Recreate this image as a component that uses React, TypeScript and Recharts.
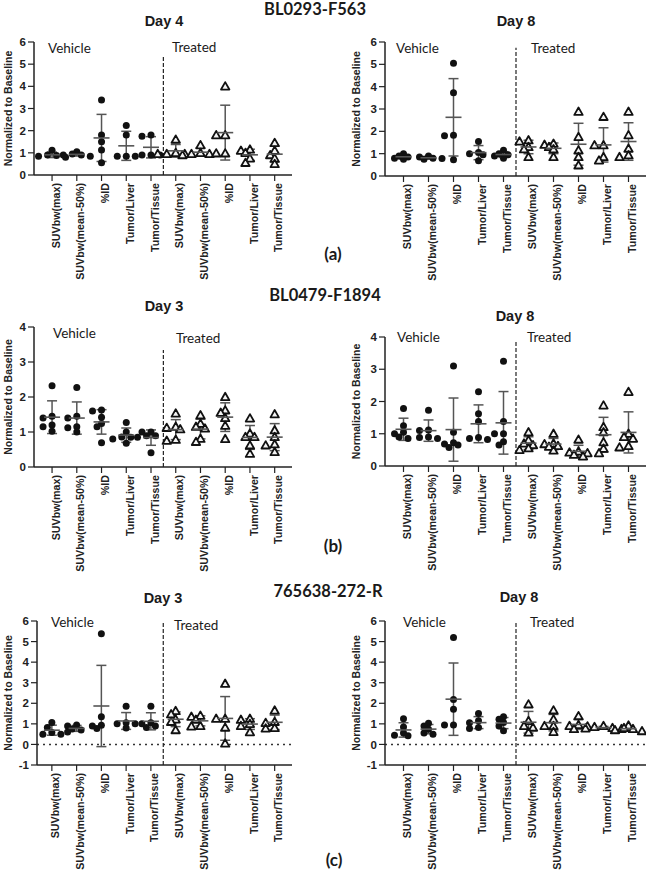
import { ScatterChart, Scatter, XAxis, YAxis, ErrorBar, ReferenceLine } from "recharts"

const W = 648
const H = 873
const SANS = '"Liberation Sans", Arial, sans-serif'
const CAL = 'Lato, "Open Sans", sans-serif'

const categories = ["SUVbw(max)", "SUVbw(mean-50%)", "%ID", "Tumor/Liver", "Tumor/Tissue"]
const tickLabels = [...categories, ...categories]

// BL0293-F563
const a4Vehicle = [
  [1.12, 0.9, 0.88, 0.85, 0.8],
  [1.05, 0.95, 0.9, 0.9, 0.85],
  [3.38, 1.8, 1.5, 1.13, 0.55],
  [2.23, 1.8, 0.85, 0.85, 0.85],
  [1.8, 1.75, 0.9, 0.9, 0.9],
]
const a4Treated = [
  [1.6, 1.0, 0.95, 0.95, 0.95],
  [1.35, 1.0, 0.95, 0.95, 0.9],
  [4.0, 1.8, 1.8, 0.98, 0.98],
  [1.15, 1.1, 1.0, 0.75, 0.55],
  [1.45, 1.1, 0.9, 0.75, 0.5],
]
const a8Vehicle = [
  [1.0, 0.9, 0.85, 0.8, 0.75],
  [0.9, 0.85, 0.8, 0.78, 0.75],
  [5.05, 3.73, 1.83, 1.8, 0.73],
  [1.55, 1.05, 1.0, 0.95, 0.68],
  [1.15, 1.0, 0.95, 0.9, 0.8],
]
const a8Treated = [
  [1.6, 1.55, 1.3, 1.2, 0.85],
  [1.45, 1.4, 1.3, 1.2, 0.85],
  [2.88, 1.75, 1.15, 0.85, 0.48],
  [2.65, 1.38, 1.38, 0.85, 0.7],
  [2.88, 1.83, 1.23, 0.93, 0.85],
]

// BL0479-F1894
const b3Vehicle = [
  [2.32, 1.45, 1.4, 1.2, 1.15, 1.02],
  [2.27, 1.45, 1.4, 1.15, 1.12, 1.0],
  [1.63, 1.6, 1.42, 1.24, 1.15, 0.69],
  [1.27, 1.0, 0.86, 0.85, 0.8, 0.68],
  [1.0, 1.0, 0.89, 0.89, 0.85, 0.41],
]
const b3Treated = [
  [1.53, 1.15, 1.12, 1.08, 0.78, 0.75],
  [1.48, 1.24, 1.15, 1.1, 0.81, 0.72],
  [2.0, 1.62, 1.55, 1.4, 1.18, 0.8],
  [1.39, 0.96, 0.86, 0.86, 0.62, 0.38],
  [1.51, 1.05, 0.86, 0.65, 0.62, 0.43],
]
const b8Vehicle = [
  [1.78, 1.25, 1.05, 1.0, 0.9, 0.85],
  [1.73, 1.12, 1.1, 0.9, 0.88, 0.85],
  [3.1, 1.05, 0.72, 0.68, 0.65, 0.57],
  [2.3, 1.62, 1.38, 0.88, 0.85, 0.82],
  [3.25, 1.38, 1.0, 1.0, 0.75, 0.65],
]
const b8Treated = [
  [1.05, 0.8, 0.7, 0.65, 0.55, 0.5],
  [1.0, 0.7, 0.68, 0.62, 0.6, 0.48],
  [0.82, 0.45, 0.42, 0.4, 0.35, 0.3],
  [1.88, 1.21, 1.05, 0.74, 0.54, 0.4],
  [2.3, 1.0, 0.9, 0.85, 0.62, 0.58],
]

// 765638-272-R
const c3Vehicle = [
  [1.06, 0.82, 0.58, 0.5, 0.5],
  [0.95, 0.9, 0.75, 0.7, 0.6],
  [5.38, 1.35, 0.93, 0.9, 0.78],
  [1.85, 1.05, 1.0, 1.0, 0.8],
  [1.85, 1.05, 1.0, 0.9, 0.82],
]
const c3Treated = [
  [1.63, 1.47, 1.22, 1.1, 0.7],
  [1.4, 1.35, 1.2, 0.9, 0.88],
  [2.95, 1.25, 1.25, 0.82, 0.05],
  [1.25, 1.2, 1.0, 0.9, 0.6],
  [1.65, 1.1, 1.05, 0.8, 0.78],
]
const c8Vehicle = [
  [1.25, 0.85, 0.55, 0.45, 0.42],
  [1.03, 0.9, 0.74, 0.55, 0.5],
  [5.2, 2.19, 1.71, 0.95, 0.95],
  [1.5, 1.15, 1.05, 0.82, 0.78],
  [1.35, 1.22, 1.06, 0.9, 0.66],
]
const c8Treated = [
  [1.95, 1.14, 0.9, 0.82, 0.58],
  [1.66, 1.22, 0.9, 0.9, 0.61],
  [1.38, 0.95, 0.9, 0.88, 0.75],
  [0.9, 0.85, 0.8, 0.78, 0.75],
  [0.92, 0.8, 0.75, 0.7, 0.65],
]

type Pt = { x: number; y: number }

// simple beeswarm so close values spread sideways like Prism does
function swarm(groups: number[][], first: number, pxX: number, pxY: number): Pt[] {
  const out: Pt[] = []
  groups.forEach((vals, gi) => {
    const placed: { off: number; v: number }[] = []
    vals.forEach((v) => {
      for (const k of [0, -1, 1, -2, 2, -3, 3, -4, 4]) {
        const off = (k * 4.5) / pxX
        const hit = placed.some((p) => Math.hypot((off - p.off) * pxX, (v - p.v) * pxY) < 5)
        if (!hit) {
          placed.push({ off, v })
          out.push({ x: first + gi + off, y: v })
          break
        }
      }
    })
  })
  return out
}

function stats(groups: number[][], first: number) {
  return groups.map((vals, gi) => {
    const m = vals.reduce((s, v) => s + v, 0) / vals.length
    const sd = Math.sqrt(vals.reduce((s, v) => s + (v - m) ** 2, 0) / (vals.length - 1))
    return { x: first + gi, y: m, sd }
  })
}

const Dot = (p: any) => <circle cx={p.cx} cy={p.cy} r={3.5} fill="#111" />
const Tri = (p: any) => (
  <path
    d={`M${p.cx},${p.cy - 4.2}L${p.cx + 4.2},${p.cy + 3.2}L${p.cx - 4.2},${p.cy + 3.2}Z`}
    fill="#f4f4f4"
    stroke="#111"
    strokeWidth={1.8}
    strokeLinejoin="round"
  />
)
const MeanLine = (p: any) => (
  <line x1={p.cx - 8} x2={p.cx + 8} y1={p.cy} y2={p.cy} stroke="#555" strokeWidth={1.6} />
)

type PanelProps = {
  vehicle: number[][]
  treated: number[][]
  box: { left: number; right: number; top: number; bottom: number }
  yDomain: [number, number]
  yTicks: number[]
  xMin: number
  sepTop: number
  zero?: boolean
  labelX: number
}

function Panel({ vehicle, treated, box, yDomain, yTicks, xMin, sepTop, zero, labelX }: PanelProps) {
  const xMax = 10.7
  const pxX = (box.right - box.left) / (xMax - xMin)
  const pxY = (box.bottom - box.top) / (yDomain[1] - yDomain[0])
  const vPts = swarm(vehicle, 1, pxX, pxY)
  const tPts = swarm(treated, 6, pxX, pxY)
  const means = [...stats(vehicle, 1), ...stats(treated, 6)]
  const yWidth = 30
  return (
    <div style={{ position: "absolute", left: 0, top: 0 }}>
      <ScatterChart
        width={W}
        height={H}
        margin={{ top: box.top, left: box.left - yWidth, right: W - box.right, bottom: H - box.bottom - 20 }}
      >
        <XAxis
          type="number"
          dataKey="x"
          domain={[xMin, xMax]}
          ticks={[1, 2, 3, 4, 5, 6, 7, 8, 9, 10]}
          allowDataOverflow
          height={20}
          interval={0}
          tickFormatter={(v: number) => tickLabels[Math.round(v) - 1]}
          angle={-90}
          tick={{
            textAnchor: "end",
            verticalAnchor: "middle",
            fontFamily: SANS,
            fontSize: 10.7,
            fontWeight: 700,
            fill: "#222",
          }}
          tickSize={6}
          tickMargin={2}
          axisLine={{ stroke: "#222", strokeWidth: 1.5 }}
          tickLine={{ stroke: "#222", strokeWidth: 1.2 }}
        />
        <YAxis
          type="number"
          dataKey="y"
          domain={yDomain}
          ticks={yTicks}
          allowDataOverflow
          width={yWidth}
          tick={{ fontFamily: SANS, fontSize: 11.5, fontWeight: 700, fill: "#222" }}
          tickSize={6}
          tickMargin={2}
          axisLine={{ stroke: "#222", strokeWidth: 1.5 }}
          tickLine={{ stroke: "#222", strokeWidth: 1.2 }}
          label={{
            value: "Normalized to Baseline",
            angle: -90,
            position: "insideLeft",
            offset: labelX - (box.left - yWidth),
            style: { textAnchor: "middle", fontFamily: SANS, fontSize: 10.5, fontWeight: 700, fill: "#222" },
          }}
        />
        {zero && <ReferenceLine y={0} stroke="#333" strokeWidth={1.5} strokeDasharray="2 4" />}
        <ReferenceLine
          segment={[
            { x: 5.5, y: yDomain[0] },
            { x: 5.5, y: sepTop },
          ]}
          stroke="#222"
          strokeWidth={1.2}
          strokeDasharray="4 2"
        />
        <Scatter data={vPts} shape={Dot} isAnimationActive={false} />
        <Scatter data={tPts} shape={Tri} isAnimationActive={false} />
        <Scatter data={means} shape={MeanLine} isAnimationActive={false}>
          <ErrorBar dataKey="sd" direction="y" width={5} stroke="#555" strokeWidth={1.5} />
        </Scatter>
      </ScatterChart>
    </div>
  )
}

const T = ({ x, y, size, bold, family, anchor, children }: any) => (
  <text
    x={x}
    y={y}
    fontSize={size}
    fontWeight={bold ? 700 : 400}
    fontFamily={family}
    textAnchor={anchor || "start"}
    fill="#1a1a1a"
  >
    {children}
  </text>
)

const sixTicks = [0, 1, 2, 3, 4, 5, 6]
const fourTicks = [0, 1, 2, 3, 4]
const cTicks = [-1, 0, 1, 2, 3, 4, 5, 6]

export default function App() {
  return (
    <div style={{ position: "absolute", left: 0, top: 0, width: W, height: H, background: "#fff" }}>
      <Panel vehicle={a4Vehicle} treated={a4Treated} box={{ left: 34, right: 292, top: 42, bottom: 175 }}
        yDomain={[0, 6]} yTicks={sixTicks} xMin={0.27} sepTop={5.32} labelX={8} />
      <Panel vehicle={a8Vehicle} treated={a8Treated} box={{ left: 385, right: 646, top: 42, bottom: 176 }}
        yDomain={[0, 6]} yTicks={sixTicks} xMin={0.26} sepTop={5.74} labelX={356} />
      <Panel vehicle={b3Vehicle} treated={b3Treated} box={{ left: 34, right: 292, top: 327, bottom: 467 }}
        yDomain={[0, 4]} yTicks={fourTicks} xMin={0.27} sepTop={3.34} labelX={8} />
      <Panel vehicle={b8Vehicle} treated={b8Treated} box={{ left: 385, right: 646, top: 337, bottom: 466 }}
        yDomain={[0, 4]} yTicks={fourTicks} xMin={0.26} sepTop={3.85} labelX={356} />
      <Panel vehicle={c3Vehicle} treated={c3Treated} box={{ left: 37, right: 292, top: 621, bottom: 765 }}
        yDomain={[-1, 6]} yTicks={cTicks} xMin={0.4} sepTop={5.95} zero labelX={8} />
      <Panel vehicle={c8Vehicle} treated={c8Treated} box={{ left: 385, right: 646, top: 621, bottom: 765 }}
        yDomain={[-1, 6]} yTicks={cTicks} xMin={0.26} sepTop={6} zero labelX={356} />
      <svg width={W} height={H} style={{ position: "absolute", left: 0, top: 0, pointerEvents: "none" }}>
        <T x={315} y={15} size={16.5} bold family={CAL} anchor="middle">BL0293-F563</T>
        <T x={325} y={301} size={16.5} bold family={CAL} anchor="middle">BL0479-F1894</T>
        <T x={328} y={597} size={16.5} bold family={CAL} anchor="middle">765638-272-R</T>

        <T x={164} y={26} size={14.5} bold family={SANS} anchor="middle">Day 4</T>
        <T x={516} y={26} size={14.5} bold family={SANS} anchor="middle">Day 8</T>
        <T x={164} y={311} size={14.5} bold family={SANS} anchor="middle">Day 3</T>
        <T x={515} y={321} size={14.5} bold family={SANS} anchor="middle">Day 8</T>
        <T x={163} y={603} size={14.5} bold family={SANS} anchor="middle">Day 3</T>
        <T x={519} y={602} size={14.5} bold family={SANS} anchor="middle">Day 8</T>

        <T x={48} y={53} size={13.5} family={CAL}>Vehicle</T>
        <T x={172} y={52} size={13.5} family={CAL}>Treated</T>
        <T x={396} y={53} size={13.5} family={CAL}>Vehicle</T>
        <T x={531} y={53} size={13.5} family={CAL}>Treated</T>
        <T x={53} y={338} size={13.5} family={CAL}>Vehicle</T>
        <T x={176} y={343} size={13.5} family={CAL}>Treated</T>
        <T x={397} y={342} size={13.5} family={CAL}>Vehicle</T>
        <T x={527} y={342} size={13.5} family={CAL}>Treated</T>
        <T x={51} y={627} size={13.5} family={CAL}>Vehicle</T>
        <T x={174} y={630} size={13.5} family={CAL}>Treated</T>
        <T x={403} y={627} size={13.5} family={CAL}>Vehicle</T>
        <T x={530} y={627} size={13.5} family={CAL}>Treated</T>

        <T x={333} y={260} size={17} bold family={CAL} anchor="middle">(a)</T>
        <T x={333} y={552} size={17} bold family={CAL} anchor="middle">(b)</T>
        <T x={334} y={866} size={17} bold family={CAL} anchor="middle">(c)</T>
      </svg>
    </div>
  )
}
